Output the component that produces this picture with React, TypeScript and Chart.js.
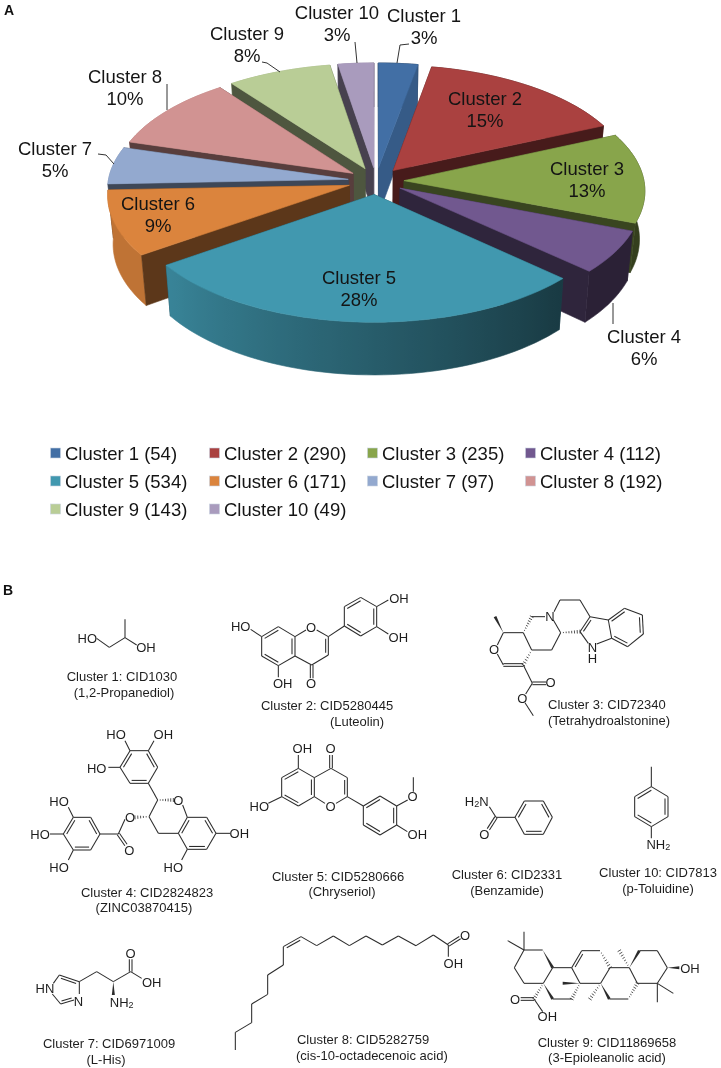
import React, { useEffect, useRef } from "react";
import { Chart, registerables } from "chart.js";

Chart.register(...registerables);

// ---------- data ----------
const clusterNames = ["Cluster 1","Cluster 2","Cluster 3","Cluster 4","Cluster 5","Cluster 6","Cluster 7","Cluster 8","Cluster 9","Cluster 10"];
const clusterCounts = [54, 290, 235, 112, 534, 171, 97, 192, 143, 49];
const clusterPercents = ["3%","15%","13%","6%","28%","9%","5%","10%","8%","3%"];
const clusterColors = ["#426FA5","#AA4140","#88A54B","#71588F","#4198AF","#DB843D","#93A9CF","#D19392","#B9CD96","#A99BBD"];

// ---------- layout ----------
const SLICE_EXPLODE = 28;
const PIE = { screenY: 181, tilt: 0.48, persp: 0.08, depth: 48 };
const labelSpots: [number, number][] = [[424,15],[485,98],[587,168],[644,336],[359,277],[158,203],[55,148],[125,76],[247,33],[337,12]];
const leaders = ["397,63 400,45 409,44","","","613,324 613,303","","","114,164 106,155 98,154","167,110 167,84","280,72 267,63 262,62","357,63 355,42"];
const legendX = [50, 209, 367, 525];
const legendY = [453, 481, 509];

const parseHex = (h: string) => [1, 3, 5].map((i) => parseInt(h.slice(i, i + 2), 16));
const shade = (h: string, f: number) => {
  const [r, g, b] = parseHex(h);
  return `rgb(${Math.round(r * f)},${Math.round(g * f)},${Math.round(b * f)})`;
};
const wallShade = (deg: number) => {
  const d = ((deg % 360) + 360) % 360;
  if (d <= 133) return 0.38;
  if (d >= 234) return 0.87;
  return 0.38 + ((d - 133) / 101) * 0.49;
};

// Draws the arc elements computed by the pie controller in a tilted, extruded perspective view.
const pie3d = {
  id: "pie3d",
  beforeDatasetDraw(chart: any) {
    const ctx: CanvasRenderingContext2D = chart.ctx;
    const arcs: any[] = chart.getDatasetMeta(0).data;
    const order = arcs
      .map((a, i) => ({ a, i, y: Math.sin((a.startAngle + a.endAngle) / 2) }))
      .sort((p, q) => p.y - q.y);
    for (const { a, i } of order) {
      const R = a.outerRadius;
      const mid = (a.startAngle + a.endAngle) / 2;
      const off = a.options.offset;
      const ax = Math.cos(mid) * off;
      const ay = Math.sin(mid) * off;
      const project = (X: number, Y: number, z: number): [number, number] => {
        const s = 1 / (1 - (PIE.persp * Y) / R);
        return [a.x + X * s * (1 - (0.02 * z) / PIE.depth), PIE.screenY + PIE.tilt * Y * s + z * s];
      };
      const color = clusterColors[i];
      const N = Math.max(6, Math.ceil(((a.endAngle - a.startAngle) * 180) / Math.PI / 2));
      const rim: [number, number][] = [];
      const angs: number[] = [];
      for (let k = 0; k <= N; k++) {
        const t = a.startAngle + ((a.endAngle - a.startAngle) * k) / N;
        angs.push(t);
        rim.push([ax + R * Math.cos(t), ay + R * Math.sin(t)]);
      }
      const fillPoly = (pts: [number, number][], fill: any) => {
        ctx.beginPath();
        pts.forEach((p, n) => (n ? ctx.lineTo(p[0], p[1]) : ctx.moveTo(p[0], p[1])));
        ctx.closePath();
        ctx.fillStyle = fill;
        ctx.strokeStyle = fill;
        ctx.lineWidth = 0.6;
        ctx.fill();
        ctx.stroke();
      };
      const D = PIE.depth;
      const face = (p: [number, number], f: number) =>
        fillPoly([project(ax, ay, 0), project(p[0], p[1], 0), project(p[0], p[1], D), project(ax, ay, D)], shade(color, f));
      const endDeg = (((a.endAngle + Math.PI / 2) * 180) / Math.PI) % 360;
      const startFront = -Math.cos(a.startAngle) > 0;
      const endFront = Math.cos(a.endAngle) > 0;
      const endF = endDeg < 30 ? 0.82 : 0.42;
      if (!startFront) face(rim[0], 0.42);
      if (!endFront) face(rim[N], endF);

      const topRim = rim.map((p) => project(p[0], p[1], 0));
      const botRim = rim.map((p) => project(p[0], p[1], D));
      const xs = topRim.concat(botRim).map((p) => p[0]);
      const x0 = Math.min(...xs);
      const x1 = Math.max(...xs);
      const grad = ctx.createLinearGradient(x0, 0, x1, 0);
      topRim
        .map((p, k) => ({ t: (p[0] - x0) / (x1 - x0 || 1), f: wallShade(((angs[k] + Math.PI / 2) * 180) / Math.PI) }))
        .sort((u, v) => u.t - v.t)
        .forEach(({ t, f }) => grad.addColorStop(Math.min(1, Math.max(0, t)), shade(color, f)));
      fillPoly([...topRim, ...botRim.slice().reverse()], grad);

      if (startFront) face(rim[0], 0.42);
      if (endFront) face(rim[N], endF);
      fillPoly([project(ax, ay, 0), ...topRim], color);
    }
    return false;
  },
};

// ---------- molecule drawings (in 3x crop units, offset by origin) ----------
type Mol = {
  o: [number, number];
  b?: number[][];
  d?: number[][];
  w?: number[][];
  h?: number[][];
  r?: { p: number[]; e: number[] }[];
  t?: [string, number, number][];
};
const molecules: Mol[] = [
  { o: [0, 570], b: [[290,205,328,232],[328,232,375,203],[375,203,375,148],[375,203,410,225]], t: [["HO",262,203],["OH",438,231]] },
  {
    o: [0, 570],
    r: [
      { p: [785,200,835,170,885,200,885,258,835,287,785,258], e: [0,2,4] },
      { p: [1033,168,1033,110,1082,82,1130,110,1130,170,1082,198], e: [1,3,5] },
    ],
    b: [[752,178,785,200],[885,200,918,180],[950,180,985,200],[985,255,935,285],[935,285,885,258],[835,287,835,322],[985,200,1033,168],[1130,110,1165,90],[1130,170,1165,192]],
    d: [[985,200,985,255,1],[935,285,935,325,0]],
    t: [["HO",722,169],["O",933,170],["OH",848,340],["O",933,340],["OH",1197,85],["OH",1195,200]],
  },
  {
    o: [360, 570],
    r: [{ p: [745,150,793,115,847,135,850,192,803,230,755,205], e: [0,2,4] }],
    b: [[430,188,490,188],[430,188,412,225],[412,252,430,285],[490,188,515,240],[515,240,575,240],[575,240,602,188],[602,188,580,150],[555,140,515,140],[582,125,600,90],[600,90,660,90],[660,90,690,140],[690,140,745,150],[660,185,685,220],[710,222,755,205],[490,285,517,340],[517,340,497,372],[495,398,520,437]],
    d: [[430,285,490,285,0],[690,140,660,185,-1],[517,340,558,340,0]],
    w: [[430,188,405,140]],
    h: [[490,188,515,140],[515,240,490,285],[602,188,660,185]],
    t: [["O",402,238],["N",570,138],["N",697,230],["H",697,263],["O",572,337],["O",487,385]],
  },
  {
    o: [0, 720],
    r: [
      { p: [390,92,445,92,473,142,445,190,390,190,360,142], e: [1,3,5] },
      { p: [535,340,562,292,620,292,648,340,620,388,562,388], e: [0,2,4] },
      { p: [300,342,272,292,220,292,190,342,220,390,272,390], e: [0,2,4] },
    ],
    b: [[390,92,375,62],[445,92,462,62],[360,142,325,142],[445,190,473,240],[473,240,447,290],[447,290,475,340],[475,340,535,340],[562,292,548,255],[648,340,690,340],[562,388,545,420],[375,298,355,342],[355,342,300,342],[220,292,205,262],[190,342,150,342],[220,390,205,420]],
    d: [[355,342,378,375,0]],
    h: [[473,240,520,240],[447,290,405,292]],
    t: [["HO",348,43],["OH",490,43],["HO",290,143],["HO",177,243],["O",390,292],["O",535,240],["HO",120,342],["O",388,390],["HO",177,440],["OH",718,340],["HO",520,440]],
  },
  {
    o: [250, 720],
    r: [
      { p: [145,145,193,173,193,230,145,258,95,230,95,173], e: [1,3,5] },
      { p: [340,258,390,228,440,258,440,315,390,345,340,315], e: [0,2,4] },
    ],
    b: [[145,145,145,105],[95,230,55,250],[193,173,243,145],[243,145,292,173],[292,230,258,250],[225,250,193,230],[292,230,340,258],[440,258,473,240],[490,215,490,172],[440,315,472,335]],
    d: [[292,173,292,230,1],[243,145,243,105,0]],
    t: [["OH",157,85],["O",242,85],["HO",28,257],["O",242,257],["O",488,228],["OH",502,343]],
  },
  {
    o: [250, 720],
    r: [{ p: [795,292,823,243,880,243,907,292,880,343,823,343], e: [0,2,4] }],
    b: [[718,260,738,292],[738,292,795,292]],
    d: [[738,292,715,328,0]],
    t: [["H_2N",680,243],["O",703,342]],
  },
  {
    o: [250, 720],
    r: [{ p: [1204,200,1254,230,1254,290,1204,320,1154,290,1154,230], e: [1,3,5] }],
    b: [[1204,140,1204,200],[1204,320,1204,355]],
    t: [["NH_2",1225,372]],
  },
  {
    o: [0, 900],
    b: [[160,250,178,225],[238,245,238,282],[182,312,157,282],[238,245,290,215],[290,215,340,245],[340,245,392,215],[392,215,425,235]],
    d: [[178,225,238,245,1],[222,300,182,312,1],[392,215,392,178,0]],
    w: [[340,245,340,285]],
    t: [["HN",135,265],["N",235,303],["O",392,160],["OH",455,245],["NH_2",365,305]],
  },
  {
    o: [0, 900],
    b: [[706,450,706,397],[706,397,755,368],[755,368,755,312],[755,312,803,283],[803,283,803,225],[803,225,850,195],[850,195,850,140],[903,110,950,137],[950,137,1000,108],[1000,108,1048,137],[1048,137,1098,108],[1098,108,1147,135],[1147,135,1195,108],[1195,108,1248,137],[1248,137,1300,105],[1300,105,1345,135],[1345,135,1345,170]],
    d: [[850,140,903,110,1],[1345,135,1380,113,0]],
    t: [["O",1395,105],["OH",1360,190]],
  },
  {
    o: [400, 900],
    b: [[372,150,428,150],[458,203,430,250],[430,250,372,250],[372,250,343,203],[343,203,372,150],[372,150,372,95],[372,150,323,122],[458,203,515,203],[545,152,600,152],[630,203,688,203],[515,203,540,250],[540,250,602,250],[602,250,630,203],[515,297,458,297],[628,297,685,297],[712,250,688,203],[712,250,772,250],[772,250,802,203],[802,203,772,152],[772,152,718,152],[772,250,772,307],[772,250,820,280],[402,297,428,335]],
    d: [[515,203,545,152,1],[402,297,362,297,0]],
    w: [[428,150,458,203],[430,250,458,297],[602,250,628,297],[688,203,718,152],[540,250,488,250],[802,203,838,203]],
    h: [[600,152,630,203],[540,250,515,297],[685,297,712,250],[688,203,658,152],[602,250,570,297],[430,250,402,297]],
    t: [["OH",870,203],["O",345,297],["OH",442,348]],
  },
];

const captions: [string, number, number, "middle" | "start"][] = [
  ["Cluster 1: CID1030",122,676,"middle"],["(1,2-Propanediol)",124,692,"middle"],
  ["Cluster 2: CID5280445",327,705,"middle"],["(Luteolin)",357,721,"middle"],
  ["Cluster 3: CID72340",548,704,"start"],["(Tetrahydroalstonine)",548,720,"start"],
  ["Cluster 4: CID2824823",147,892,"middle"],["(ZINC03870415)",144,907,"middle"],
  ["Cluster 5: CID5280666",338,876,"middle"],["(Chryseriol)",342,891,"middle"],
  ["Cluster 6: CID2331",507,874,"middle"],["(Benzamide)",507,890,"middle"],
  ["Cluster 10: CID7813",658,872,"middle"],["(p-Toluidine)",658,888,"middle"],
  ["Cluster 7: CID6971009",109,1043,"middle"],["(L-His)",106,1059,"middle"],
  ["Cluster 8: CID5282759",363,1039,"middle"],["(cis-10-octadecenoic acid)",296,1055,"start"],
  ["Cluster 9: CID11869658",607,1042,"middle"],["(3-Epioleanolic acid)",607,1057,"middle"],
];

const FONT = "'Liberation Sans', Arial, sans-serif";
const INK = "#2b2b2b";

function AtomText({ s, x, y }: { s: string; x: number; y: number }) {
  const parts = s.split(/_(\d)/);
  return (
    <text x={x} y={y} textAnchor="middle" dominantBaseline="central" fontSize={13} fill="#1e1e1e">
      {parts.map((p, i) =>
        i % 2 === 1 ? (
          <tspan key={i} dy={3} fontSize={9}>{p}</tspan>
        ) : (
          <tspan key={i} dy={i > 0 ? -3 : 0}>{p}</tspan>
        )
      )}
    </text>
  );
}

function Molecule({ m }: { m: Mol }) {
  const [ox, oy] = m.o;
  const X = (v: number) => ox + v / 3;
  const Y = (v: number) => oy + v / 3;
  const els: React.ReactNode[] = [];
  let key = 0;
  const seg = (a: number, b: number, c: number, d: number, w = 1.05) =>
    els.push(<line key={key++} x1={X(a)} y1={Y(b)} x2={X(c)} y2={Y(d)} stroke={INK} strokeWidth={w} />);
  (m.b || []).forEach(([a, b, c, d]) => seg(a, b, c, d));
  (m.r || []).forEach(({ p, e }) => {
    const n = p.length / 2;
    let cx = 0, cy = 0;
    for (let i = 0; i < n; i++) { cx += p[2 * i] / n; cy += p[2 * i + 1] / n; }
    for (let i = 0; i < n; i++) {
      const a = p[2 * i], b = p[2 * i + 1], c = p[(2 * i + 2) % (2 * n)], d = p[(2 * i + 3) % (2 * n)];
      seg(a, b, c, d);
      if (e.includes(i)) {
        const q = 0.82;
        const ia = cx + (a - cx) * q, ib = cy + (b - cy) * q, ic = cx + (c - cx) * q, id = cy + (d - cy) * q;
        seg(ia, ib, ic, id);
      }
    }
  });
  (m.d || []).forEach(([a, b, c, d, side]) => {
    const dx = c - a, dy = d - b, L = Math.hypot(dx, dy);
    const nx = -dy / L, ny = dx / L;
    if (side === 0) {
      seg(a + nx * 4, b + ny * 4, c + nx * 4, d + ny * 4);
      seg(a - nx * 4, b - ny * 4, c - nx * 4, d - ny * 4);
    } else {
      seg(a, b, c, d);
      const s = 8 * side;
      seg(a + nx * s + dx * 0.12, b + ny * s + dy * 0.12, c + nx * s - dx * 0.12, d + ny * s - dy * 0.12);
    }
  });
  (m.w || []).forEach(([a, b, c, d]) => {
    const dx = c - a, dy = d - b, L = Math.hypot(dx, dy);
    const nx = (-dy / L) * 4.5, ny = (dx / L) * 4.5;
    els.push(
      <polygon key={key++} fill={INK} points={`${X(a)},${Y(b)} ${X(c + nx)},${Y(d + ny)} ${X(c - nx)},${Y(d - ny)}`} />
    );
  });
  (m.h || []).forEach(([a, b, c, d]) => {
    const dx = c - a, dy = d - b, L = Math.hypot(dx, dy);
    const n = Math.max(4, Math.round(L / 8));
    for (let i = 1; i <= n; i++) {
      const t = i / n;
      const hw = 1 + 5 * t;
      const px = a + dx * t, py = b + dy * t;
      const nx = (-dy / L) * hw, ny = (dx / L) * hw;
      seg(px + nx, py + ny, px - nx, py - ny, 0.8);
    }
  });
  (m.t || []).forEach(([s, x, y]) => els.push(<AtomText key={key++} s={s} x={X(x)} y={Y(y)} />));
  return <g>{els}</g>;
}

export default function App() {
  const ref = useRef<HTMLCanvasElement>(null);
  useEffect(() => {
    document.body.style.margin = "0";
    const chart = new Chart(ref.current!, {
      type: "pie",
      data: {
        labels: clusterNames,
        datasets: [{ data: clusterCounts, backgroundColor: clusterColors, borderWidth: 0, offset: SLICE_EXPLODE }],
      },
      options: {
        responsive: false,
        animation: false,
        events: [],
        layout: { padding: { left: 122, right: 91, top: 0, bottom: 560 } },
        plugins: { legend: { display: false }, tooltip: { enabled: false } },
      },
      plugins: [pie3d],
    } as any);
    return () => chart.destroy();
  }, []);

  return (
    <div style={{ position: "absolute", left: 0, top: 0, width: 721, height: 1068, overflow: "hidden", background: "#fff" }}>
      <canvas ref={ref} width={721} height={1068} style={{ position: "absolute", left: 0, top: 0, width: 721, height: 1068 }} />
      <svg width={721} height={1068} style={{ position: "absolute", left: 0, top: 0, fontFamily: FONT }}>
        <text x={4} y={15} fontSize={14} fontWeight="bold" fill="#111">A</text>
        <text x={3} y={595} fontSize={14} fontWeight="bold" fill="#111">B</text>
        {leaders.map((p, i) => p && <polyline key={i} points={p} fill="none" stroke="#333" strokeWidth={1} />)}
        {clusterNames.map((n, i) => (
          <g key={n} fontSize={18.5} fill="#141414" textAnchor="middle" dominantBaseline="central">
            <text x={labelSpots[i][0]} y={labelSpots[i][1]}>{n}</text>
            <text x={labelSpots[i][0]} y={labelSpots[i][1] + 22.5}>{clusterPercents[i]}</text>
          </g>
        ))}
        {clusterNames.map((n, i) => {
          const x = legendX[i % 4];
          const y = legendY[Math.floor(i / 4)];
          return (
            <g key={n}>
              <rect x={x + 0.5} y={y - 5} width={10} height={10} fill={clusterColors[i]} stroke="#c9d3e0" strokeWidth={0.6} />
              <text x={x + 15} y={y} fontSize={18.5} fill="#141414" dominantBaseline="central">{`${n} (${clusterCounts[i]})`}</text>
            </g>
          );
        })}
        {molecules.map((m, i) => <Molecule key={i} m={m} />)}
        {captions.map(([s, x, y, a]) => (
          <text key={s} x={x} y={y} textAnchor={a} dominantBaseline="central" fontSize={13} fill="#1e1e1e">{s}</text>
        ))}
      </svg>
    </div>
  );
}
